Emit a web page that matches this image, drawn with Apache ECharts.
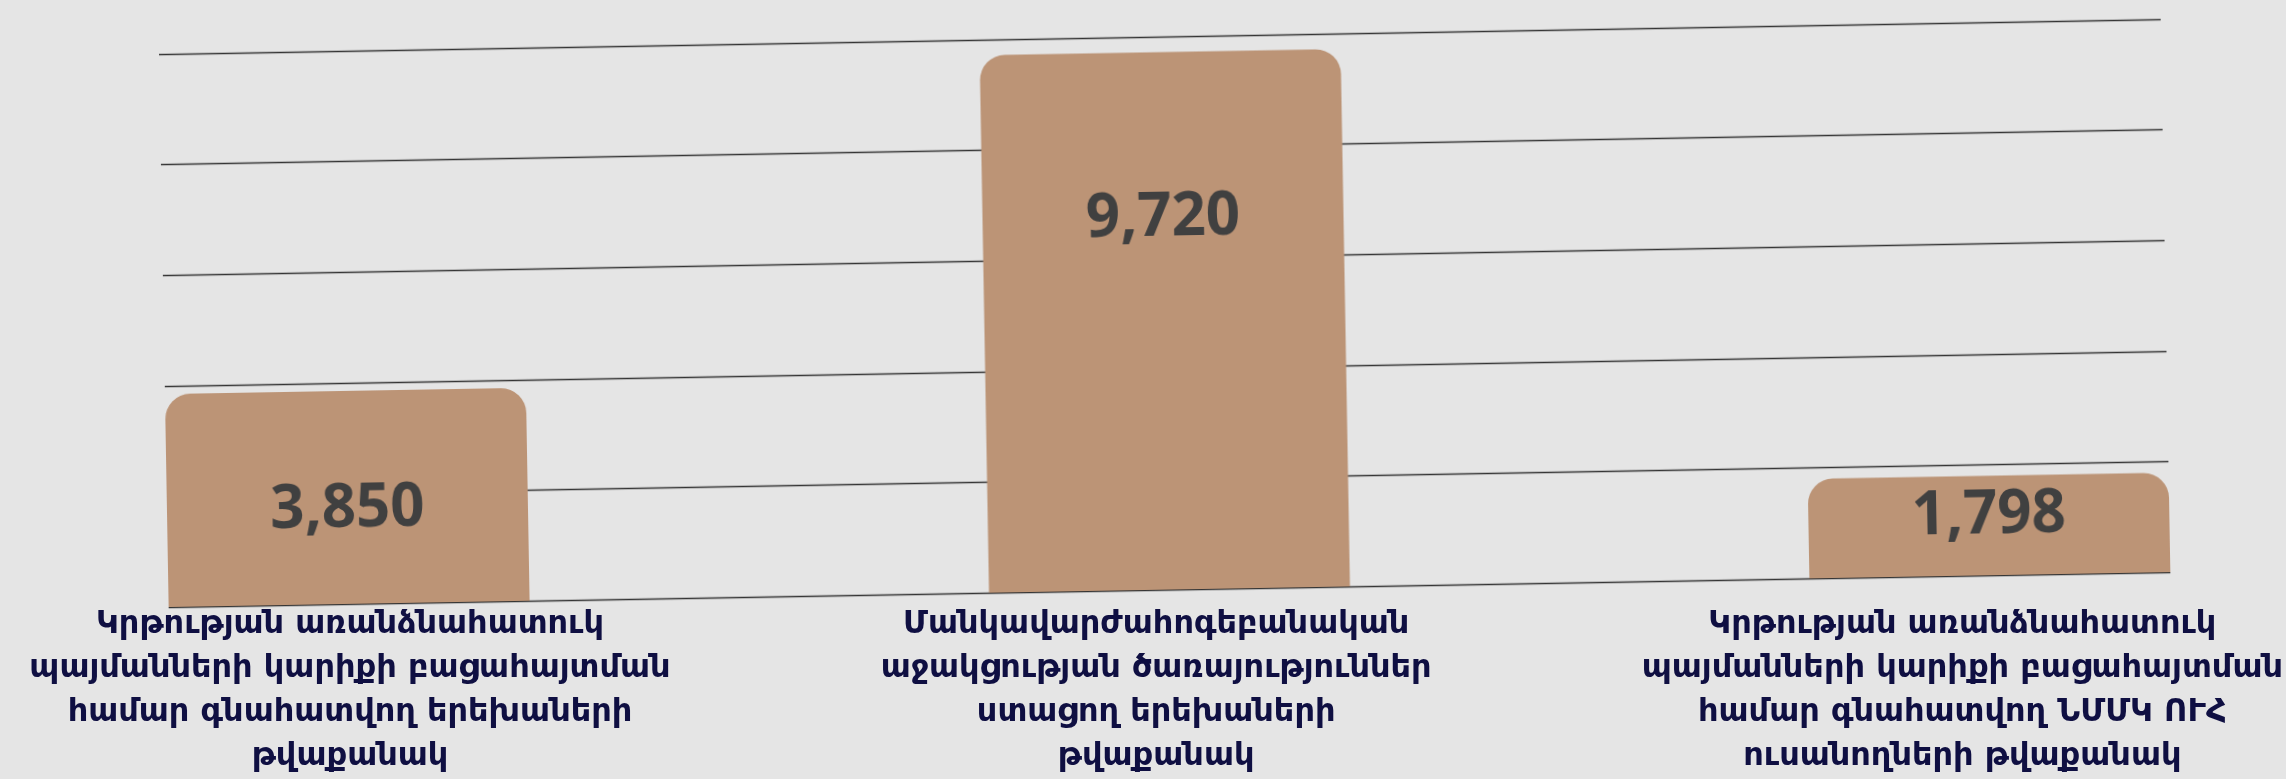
<!DOCTYPE html>
<html>
<head>
<meta charset="utf-8">
<script src="https://cdn.jsdelivr.net/npm/echarts@6/dist/echarts.min.js"></script>
<style>
  html, body { margin: 0; padding: 0; background: #e5e5e5; overflow: hidden; }
  .layer { position: absolute; left: 0; top: 0; width: 2286px; height: 779px; }
  #plot { transform: rotate(-1deg); transform-origin: 50% 50%; }
</style>
</head>
<body>
<div id="plot" class="layer"></div>
<div id="labels" class="layer"></div>
<script>
const categories = [
  'Կրթության առանձնահատուկ\nպայմանների կարիքի բացահայտման\nհամար գնահատվող երեխաների\nթվաքանակ',
  'Մանկավարժահոգեբանական\nաջակցության ծառայություններ\nստացող երեխաների\nթվաքանակ',
  'Կրթության առանձնահատուկ\nպայմանների կարիքի բացահայտման\nհամար գնահատվող ՆՄՄԿ ՈՒՀ\nուսանողների թվաքանակ'
];
const values = [3850, 9720, 1798];
const yTicks = [0, 2000, 4000, 6000, 8000, 10000];

// where the number sits inside each bar (share of bar height from the top)
const labelY = ['56%', '31%', '41%'];

const barColor = '#bc9476';

// the plot is drawn straight and the whole layer is tilted by css
let plot = echarts.init(document.getElementById('plot'));
plot.setOption({
  backgroundColor: 'transparent',
  animation: false,
  grid: { left: 165, right: 119, top: 37, bottom: 189 },
  xAxis: {
    type: 'value',
    min: -0.22,
    max: 2.22,
    show: false,
    splitLine: { show: false }
  },
  yAxis: {
    type: 'value',
    min: yTicks[0],
    max: yTicks[yTicks.length - 1],
    interval: yTicks[1] - yTicks[0],
    axisLine: { show: false },
    axisTick: { show: false },
    axisLabel: { show: false },
    splitLine: { lineStyle: { color: '#353535', width: 1.3 } }
  },
  series: [{
    type: 'bar',
    barWidth: 361,
    itemStyle: { color: barColor, borderRadius: [25, 25, 0, 0] },
    data: values.map((v, i) => ({
      value: [i, v],
      label: { position: ['50%', labelY[i]] }
    })),
    label: {
      show: true,
      align: 'center',
      verticalAlign: 'middle',
      fontFamily: '"Open Sans", sans-serif',
      fontWeight: 700,
      fontSize: 60,
      color: '#404040',
      formatter: p => p.value[1].toLocaleString('en-US')
    }
  }]
});

// category names stay level, under the bars
let labels = echarts.init(document.getElementById('labels'));
labels.setOption({
  backgroundColor: 'transparent',
  animation: false,
  grid: { left: 350, right: 296, top: 20, bottom: 184 },
  xAxis: {
    type: 'category',
    boundaryGap: false,
    data: categories,
    axisLine: { show: false },
    axisTick: { show: false },
    splitLine: { show: false },
    axisLabel: {
      interval: 0,
      margin: 8,
      fontFamily: '"DejaVu Sans", sans-serif',
      fontWeight: 'bold',
      fontSize: 32,
      lineHeight: 44,
      color: '#0f0f42'
    }
  },
  yAxis: { type: 'value', show: false, splitLine: { show: false } },
  series: [{
    type: 'bar',
    silent: true,
    itemStyle: { color: 'transparent' },
    data: values
  }]
});
</script>
</body>
</html>
